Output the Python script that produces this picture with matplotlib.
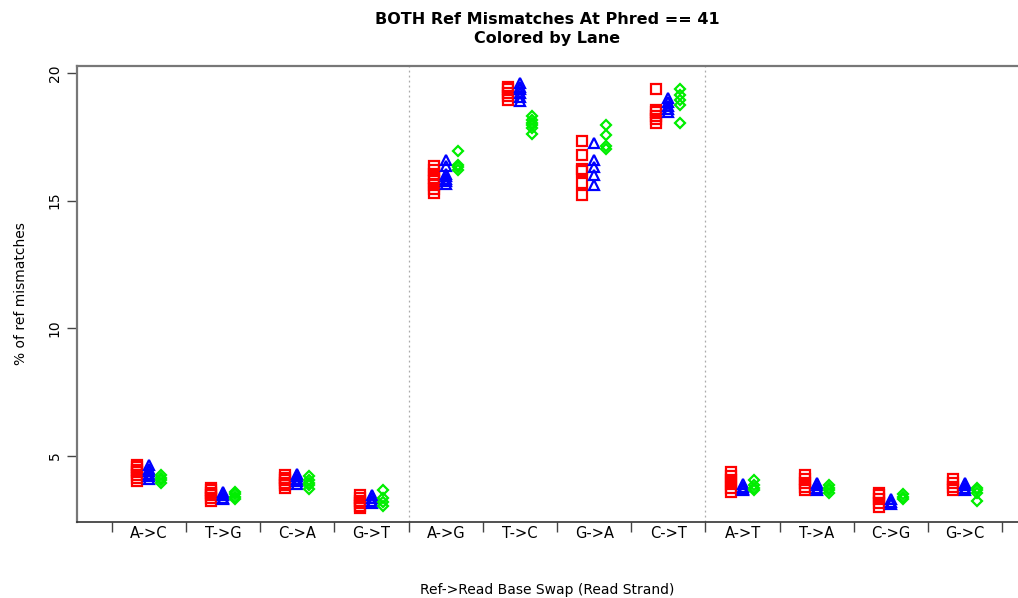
import matplotlib.pyplot as plt

swaps = ['A->C', 'T->G', 'C->A', 'G->T', 'A->G', 'T->C',
         'G->A', 'C->T', 'A->T', 'T->A', 'C->G', 'G->C']

# % of ref mismatches per tile, one list per swap, for each lane
lane1 = [
    [4.65, 4.55, 4.45, 4.35, 4.25, 4.15, 4.0],
    [3.75, 3.65, 3.55, 3.45, 3.35, 3.25],
    [4.25, 4.15, 4.05, 3.95, 3.85, 3.75],
    [3.45, 3.35, 3.25, 3.15, 3.05, 2.95],
    [16.35, 16.2, 16.05, 15.9, 15.75, 15.6, 15.45, 15.3],
    [19.45, 19.35, 19.2, 19.1, 18.95],
    [17.35, 16.8, 16.25, 16.15, 15.7, 15.2],
    [19.35, 18.55, 18.45, 18.3, 18.2, 18.05],
    [4.35, 4.2, 4.05, 3.9, 3.75, 3.6],
    [4.25, 4.1, 3.95, 3.8, 3.65],
    [3.55, 3.45, 3.3, 3.15, 3.0],
    [4.1, 3.95, 3.8, 3.65],
]
lane2 = [
    [4.65, 4.5, 4.4, 4.3, 4.2, 4.1],
    [3.6, 3.5, 3.45, 3.35, 3.3],
    [4.3, 4.2, 4.1, 4.0, 3.9],
    [3.45, 3.35, 3.25, 3.15],
    [16.6, 16.35, 16.05, 15.95, 15.85, 15.75, 15.65],
    [19.6, 19.45, 19.35, 19.2, 19.05, 18.9],
    [17.25, 16.6, 16.3, 16.0, 15.6],
    [19.0, 18.85, 18.7, 18.6, 18.45],
    [3.9, 3.8, 3.7, 3.65],
    [3.95, 3.85, 3.75, 3.65],
    [3.3, 3.2, 3.1],
    [3.95, 3.85, 3.75, 3.65],
]
lane3 = [
    [4.25, 4.15, 4.05, 3.95],
    [3.6, 3.5, 3.4, 3.3],
    [4.2, 4.05, 3.95, 3.85, 3.7],
    [3.65, 3.35, 3.2, 3.05],
    [16.95, 16.4, 16.3, 16.2],
    [18.3, 18.15, 18.05, 17.95, 17.85, 17.6],
    [17.95, 17.55, 17.15, 17.0],
    [19.35, 19.15, 18.95, 18.75, 18.05],
    [4.05, 3.85, 3.75, 3.65],
    [3.85, 3.75, 3.65, 3.55],
    [3.5, 3.4, 3.3],
    [3.75, 3.65, 3.55, 3.25],
]

lanes = [(lane1, 'red', 's', -0.16),
         (lane2, 'blue', '^', 0.0),
         (lane3, '#00ee00', 'D', 0.16)]

fig = plt.figure(figsize=(10.18, 5.98), dpi=100)
ax = fig.add_axes([77 / 1018, 1 - 522 / 598, 1 - 77 / 1018 + 0.01, (522 - 66) / 598])

for vals, col, mk, off in lanes:
    for i, ys in enumerate(vals):
        ax.plot([i + 1 + off] * len(ys), ys, linestyle='none', marker=mk,
                markersize=5.5 if mk == 'D' else 6.5, markerfacecolor='none',
                markeredgecolor=col, markeredgewidth=1.6)

# separators between the swap groups
for xv in (4.5, 8.5):
    ax.axvline(xv, color='#aaaaaa', linestyle=(0, (1.5, 2.5)), linewidth=0.9)

ax.set_xlim(0.03, 12.85)
ax.set_ylim(2.41, 20.27)

ax.set_xticks([i + 0.5 for i in range(13)])
ax.set_xticklabels([])
ax.set_xticks(range(1, 13), minor=True)
ax.set_xticklabels(swaps, minor=True, fontsize=10.5)
ax.tick_params(axis='x', which='minor', length=0, pad=3)
ax.tick_params(axis='x', which='major', length=7, width=1, color='#444444')

ax.set_yticks([5, 10, 15, 20])
ax.set_yticklabels(['5', '10', '15', '20'], rotation=90, va='center', fontsize=10)
ax.tick_params(axis='y', length=7, width=1, color='#444444', pad=4)

for side in ('left', 'bottom', 'top'):
    ax.spines[side].set_color('#777777')
    ax.spines[side].set_linewidth(1.6)
ax.spines['bottom'].set_color('#333333')
ax.spines['bottom'].set_linewidth(1.2)
ax.spines['right'].set_visible(False)

ax.set_ylabel('% of ref mismatches', fontsize=10, labelpad=14)
fig.text(547 / 1018, 1 - 590 / 598, 'Ref->Read Base Swap (Read Strand)',
         ha='center', va='center', fontsize=10)
fig.text(547 / 1018, 1 - 29 / 598, 'BOTH Ref Mismatches At Phred == 41\nColored by Lane',
         ha='center', va='center', fontsize=11.5, fontweight='bold', linespacing=1.3)

fig.savefig('out.png', dpi=100)
